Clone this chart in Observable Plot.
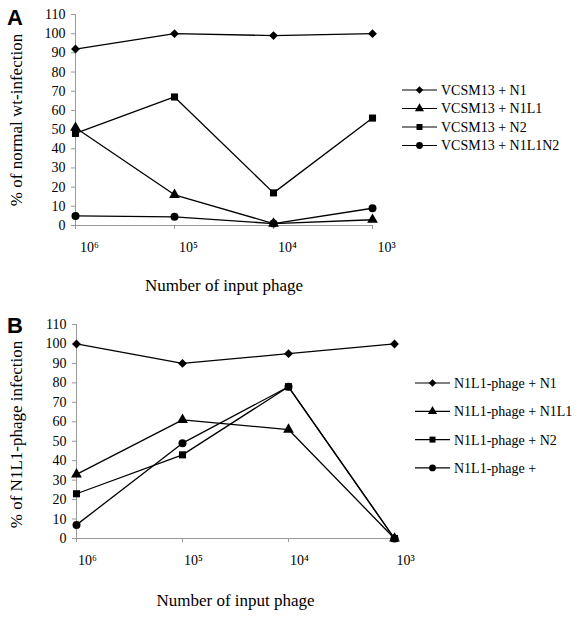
<!DOCTYPE html>
<html><head><meta charset="utf-8">
<script src="https://cdn.jsdelivr.net/npm/d3@7"></script>
<script src="https://cdn.jsdelivr.net/npm/@observablehq/plot@0.6"></script>
<style>body{margin:0;background:#fff} svg{display:block}</style>
</head><body><div id="chart"></div>
<script>
// ---- data ----
const xIndex = [0, 1, 2, 3];
const xTickLabels = ["10\u2076", "10\u2075", "10\u2074", "10\u00B3"];
const yTicks = [0, 10, 20, 30, 40, 50, 60, 70, 80, 90, 100, 110];

const seriesA = ["VCSM13 + N1", "VCSM13 + N1L1", "VCSM13 + N2", "VCSM13 + N1L1N2"];
const a_N1 = [92, 100, 99, 100];
const a_N1L1 = [51, 16, 1, 3];
const a_N2 = [48, 67, 17, 56];
const a_N1L1N2 = [5, 4.5, 1, 9];

const seriesB = ["N1L1-phage + N1", "N1L1-phage + N1L1", "N1L1-phage + N2", "N1L1-phage +"];
const b_N1 = [100, 90, 95, 100];
const b_N1L1 = [33, 61, 56, 0];
const b_N2 = [23, 43, 78, 0];
const b_plus = [7, 49, 78, 0];

const plotSymbols = ["diamond2", "triangle", "square", "circle"];
const d3Symbols = [d3.symbolDiamond2, d3.symbolTriangle, d3.symbolSquare, d3.symbolCircle];
const SERIF = "Liberation Serif, Times New Roman, serif";

function panel(cfg) {
  const data = cfg.series.flatMap((s, i) => cfg.values[i].map((v, j) => ({series: s, x: xIndex[j], y: v})));
  const svg = Plot.plot({
    width: 579, height: cfg.height,
    marginTop: cfg.mt, marginBottom: cfg.mb, marginLeft: cfg.ml, marginRight: cfg.mr,
    x: {domain: [0, 3]},
    y: {domain: [0, 110]},
    symbol: {domain: cfg.series, range: plotSymbols},
    marks: [
      Plot.ruleY([0], {stroke: "#999", strokeWidth: 1}),
      Plot.ruleX([0], {stroke: "#999", strokeWidth: 1}),
      Plot.axisY({ticks: yTicks, tickSize: 4, tickPadding: 6, stroke: "#999", label: null, tickFormat: d => String(d), fontSize: 14, fontFamily: SERIF}),
      Plot.axisX({ticks: xIndex, tickSize: 4, stroke: "#999", tickFormat: () => "", label: null}),
      Plot.axisX({ticks: xIndex, tickSize: 0, tickPadding: cfg.tickPad, dx: cfg.tickDx, tickFormat: i => xTickLabels[i], label: null, fontSize: 14, fontFamily: SERIF}),
      Plot.line(data, {x: "x", y: "y", z: "series", stroke: "#000", strokeWidth: 1.3}),
      Plot.dot(data, {x: "x", y: "y", symbol: "series", fill: "#000", stroke: "none", r: cfg.r}),
      Plot.text([cfg.yLabel], {frameAnchor: "left", textAnchor: "middle", rotate: -90, dx: cfg.yLabDx, dy: cfg.yLabDy, fontSize: 17, fontFamily: SERIF}),
      Plot.text(["Number of input phage"], {frameAnchor: "bottom", textAnchor: "middle", dy: cfg.xLabDy, fontSize: 17, fontFamily: SERIF})
    ]
  });
  const s = d3.select(svg);
  s.attr("font-family", SERIF).style("background", "#fff");
  s.append("text").attr("x", 7).attr("y", cfg.letterY).text(cfg.letter).attr("text-anchor", "start")
    .attr("font-family", "Liberation Sans, Arial, sans-serif").attr("font-weight", "bold").attr("font-size", 22).attr("fill", "#000");
  const lg = s.append("g");
  cfg.series.forEach((name, i) => {
    const y = cfg.lgY + i * cfg.lgStep;
    lg.append("line").attr("x1", cfg.lgX0).attr("x2", cfg.lgX1).attr("y1", y).attr("y2", y).attr("stroke", "#000").attr("stroke-width", 1.2);
    lg.append("path").attr("d", d3.symbol(d3Symbols[i], 36)()).attr("transform", `translate(${(cfg.lgX0 + cfg.lgX1) / 2},${y})`).attr("fill", "#000");
    lg.append("text").attr("x", cfg.lgX1 + 4).attr("y", y).attr("dy", "0.35em").attr("text-anchor", "start").text(name)
      .attr("font-family", SERIF).attr("font-size", 14).attr("fill", "#000");
  });
  return svg;
}

const root = document.getElementById("chart");
root.appendChild(panel({
  letter: "A", letterY: 25, series: seriesA, values: [a_N1, a_N1L1, a_N2, a_N1L1N2],
  yLabel: "% of normal wt-infection", height: 300, mt: 14, mb: 75, ml: 75, mr: 207,
  tickPad: 17, tickDx: 14, r: 4, yLabDx: -59, yLabDy: 0, xLabDy: 65,
  lgX0: 402, lgX1: 437, lgY: 90, lgStep: 18.5
}));
root.appendChild(panel({
  letter: "B", letterY: 33, series: seriesB, values: [b_N1, b_N1L1, b_N2, b_plus],
  yLabel: "% of N1L1-phage infection", height: 320, mt: 24, mb: 82, ml: 76, mr: 185,
  tickPad: 17, tickDx: 11, r: 4, yLabDx: -60, yLabDy: 3, xLabDy: 67,
  lgX0: 415, lgX1: 450, lgY: 83, lgStep: 28.3
}));
</script></body></html>
